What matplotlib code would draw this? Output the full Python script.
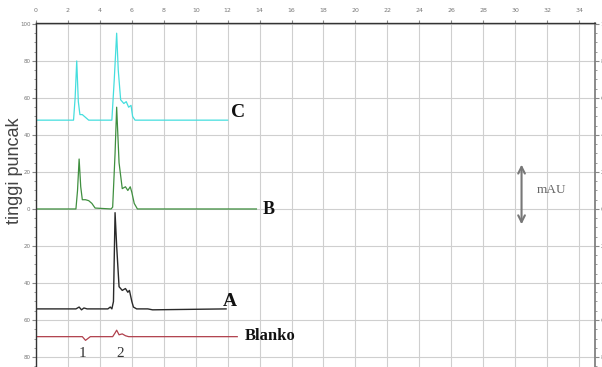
import matplotlib
matplotlib.use("Agg")
import matplotlib.pyplot as plt

# retention time (min) / detector response for each run
c_time = [0, 2.35, 2.45, 2.55, 2.65, 2.75, 2.9, 3.1, 3.3, 4.75, 4.9, 5.05, 5.15,
          5.3, 5.5, 5.65, 5.8, 5.95, 6.05, 6.2, 12.0]
c_val = [48, 48, 60, 80, 58, 51, 51, 49.5, 48, 48, 70, 95, 75,
         59, 57, 58, 55, 56, 50, 48, 48]

b_time = [0, 2.5, 2.6, 2.7, 2.8, 2.9, 3.1, 3.3, 3.5, 3.7, 4.7, 4.8, 4.95, 5.05,
          5.2, 5.4, 5.6, 5.75, 5.9, 6.0, 6.15, 6.35, 13.8]
b_val = [0, 0, 10, 27, 12, 5, 5, 4.5, 3, 0.5, 0, 1, 30, 55,
         25, 11, 12, 10, 12, 9, 3, 0, 0]

a_time = [0, 2.5, 2.7, 2.85, 3.0, 3.2, 4.5, 4.65, 4.75, 4.85, 4.95, 5.05, 5.2,
          5.4, 5.6, 5.75, 5.85, 6.0, 6.1, 6.3, 7.0, 7.3, 11.9]
a_val = [-54, -54, -53, -54.5, -53.5, -54, -54, -53, -54, -50, -2, -20, -42,
         -44, -43, -45, -44, -50, -53, -54, -54, -54.5, -54]

blank_time = [0, 2.9, 3.1, 3.25, 3.4, 4.8, 4.95, 5.05, 5.2, 5.4, 5.6, 5.8, 12.6]
blank_val = [-69, -69, -71, -70, -69, -69, -67, -65.5, -68, -67.5, -68.5, -69, -69]

x_ticks = list(range(0, 36, 2))
y_ticks = [100, 80, 60, 40, 20, 0, -20, -40, -60, -80]
y_tick_labels = ["100", "80", "60", "40", "20", "0", "20", "40", "60", "80"]

fig = plt.figure(figsize=(6.02, 3.67), dpi=100)
ax = fig.add_axes([0.0598, -0.0232, 0.9286, 0.9605])

ax.plot(c_time, c_val, color="#45dede", lw=0.9)
ax.plot(b_time, b_val, color="#3f8f3f", lw=0.9)
ax.plot(a_time, a_val, color="#2a2a2a", lw=1.0)
ax.plot(blank_time, blank_val, color="#b0404c", lw=0.9)

ax.set_xlim(0, 35)
ax.set_ylim(-90, 100.5)

ax.set_xticks(x_ticks)
ax.set_yticks(y_ticks)
ax.set_yticklabels(y_tick_labels)
ax.set_yticks(range(-90, 101, 5), minor=True)
ax.grid(True, color="#cfcfcf", lw=0.8)
ax.set_axisbelow(True)

ax.xaxis.tick_top()
ax.tick_params(axis="x", labelsize=4.5, labelcolor="#777777", length=2,
               color="#888888", pad=5)
ax.tick_params(axis="y", which="both", labelsize=4, labelcolor="#777777",
               color="#888888", left=True, right=True, labelleft=True,
               labelright=True, pad=1)
ax.tick_params(axis="y", which="major", length=3)
ax.tick_params(axis="y", which="minor", length=1.5)

for side in ("top", "left"):
    ax.spines[side].set_color("#333333")
    ax.spines[side].set_linewidth(1.0)
ax.spines["right"].set_color("#777777")
ax.spines["right"].set_linewidth(1.2)
ax.spines["bottom"].set_visible(False)

label_font = dict(family="Liberation Serif", fontweight="bold", color="#111111")
ax.text(12.2, 52, "C", fontsize=14, va="center", ha="left", **label_font)
ax.text(14.2, -0.5, "B", fontsize=13, va="center", ha="left", **label_font)
ax.text(11.7, -50, "A", fontsize=14, va="center", ha="left", **label_font)
ax.text(13.1, -68.7, "Blanko", fontsize=12, va="center", ha="left", **label_font)

ax.text(2.9, -78, "1", fontsize=11, family="Liberation Serif", color="#333333",
        ha="center", va="center")
ax.text(5.25, -78, "2", fontsize=11, family="Liberation Serif", color="#333333",
        ha="center", va="center")

ax.annotate("", xy=(30.4, 25.5), xytext=(30.4, -9.8),
            arrowprops=dict(arrowstyle="<->", color="#777777", lw=1.5,
                            mutation_scale=12))
ax.text(32.3, 10.3, "mAU", fontsize=9.5, family="Liberation Serif",
        color="#666666", ha="center", va="center")

fig.text(0.024, 0.535, "tinggi puncak", rotation=90, fontsize=13,
         family="Liberation Sans", color="#444444", ha="center", va="center")

fig.savefig("out.png", dpi=100)
